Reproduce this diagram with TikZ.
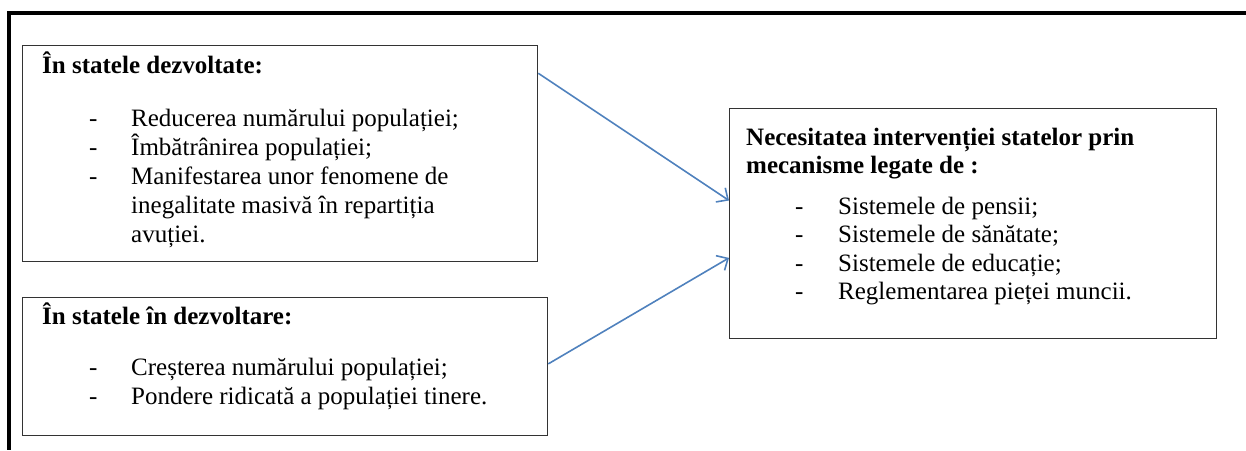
\documentclass[tikz,border=0pt]{standalone}
\usepackage{fontspec}
\setmainfont{Liberation Serif}
\usepackage{tikz}
\usetikzlibrary{calc,arrows.meta}

\definecolor{arrowblue}{HTML}{4F81BD}
\tikzset{
	box/.style={draw=black!80, line width=1.3pt, rectangle, anchor=north west, inner sep=0pt},
	head/.style={anchor=base west, inner sep=0pt, font=\fontsize{25}{29}\selectfont\bfseries},
	item/.style={anchor=base west, inner sep=0pt, font=\fontsize{25}{29}\selectfont},
	link/.style={draw=arrowblue, line width=1.6pt, -{Straight Barb[length=9pt,width=17pt]}},
	frame/.style={line width=4pt}
}

\begin{document}
\begin{tikzpicture}[x=1pt,y=-1pt]
	\useasboundingbox (0,0) rectangle (1246,450);
	\draw[frame] (1246,13) -- (9,13) -- (9,450);

	\node[box, minimum width=515pt, minimum height=216pt] (dev) at (22,45){};
	\node[box, minimum width=525pt, minimum height=138pt] (devg) at (22,297){};
	\node[box, minimum width=487pt, minimum height=230pt] (need) at (729,108){};

	\node[head] (devh) at (42,73){În statele dezvoltate:};
	\foreach \txt [count=\i] in {Reducerea numărului populației;, Îmbătrânirea populației;, Manifestarea unor fenomene de, inegalitate masivă în repartiția, avuției.}
		\node[item] (devl\i) at (131,{126+29*(\i-1)}){\txt};
	\foreach \i in {1,2,3}
		\node[item] (devd\i) at (89,{126+29*(\i-1)}){-};

	\node[head] (devgh) at (42,324){În statele în dezvoltare:};
	\foreach \txt [count=\i] in {Creșterea numărului populației;, Pondere ridicată a populației tinere.}
		{
		\node[item] (devgl\i) at (131,{375+29*(\i-1)}){\txt};
		\node[item] (devgd\i) at (89,{375+29*(\i-1)}){-};
		}

	\node[head] (needh1) at (746,145){Necesitatea intervenției statelor prin};
	\node[head] (needh2) at (746,173){mecanisme legate de :};
	\foreach \txt [count=\i] in {Sistemele de pensii;, Sistemele de sănătate;, Sistemele de educație;, Reglementarea pieței muncii.}
		{
		\node[item] (needl\i) at (838,{214+28.5*(\i-1)}){\txt};
		\node[item] (needd\i) at (795,{214+28.5*(\i-1)}){-};
		}

	\draw[link] ($(dev.north east)!0.13!(dev.south east)$) -- ($(need.north west)!0.4!(need.south west)$);
	\draw[link] ($(devg.north east)!0.48!(devg.south east)$) -- ($(need.north west)!0.648!(need.south west)$);
\end{tikzpicture}
\end{document}
